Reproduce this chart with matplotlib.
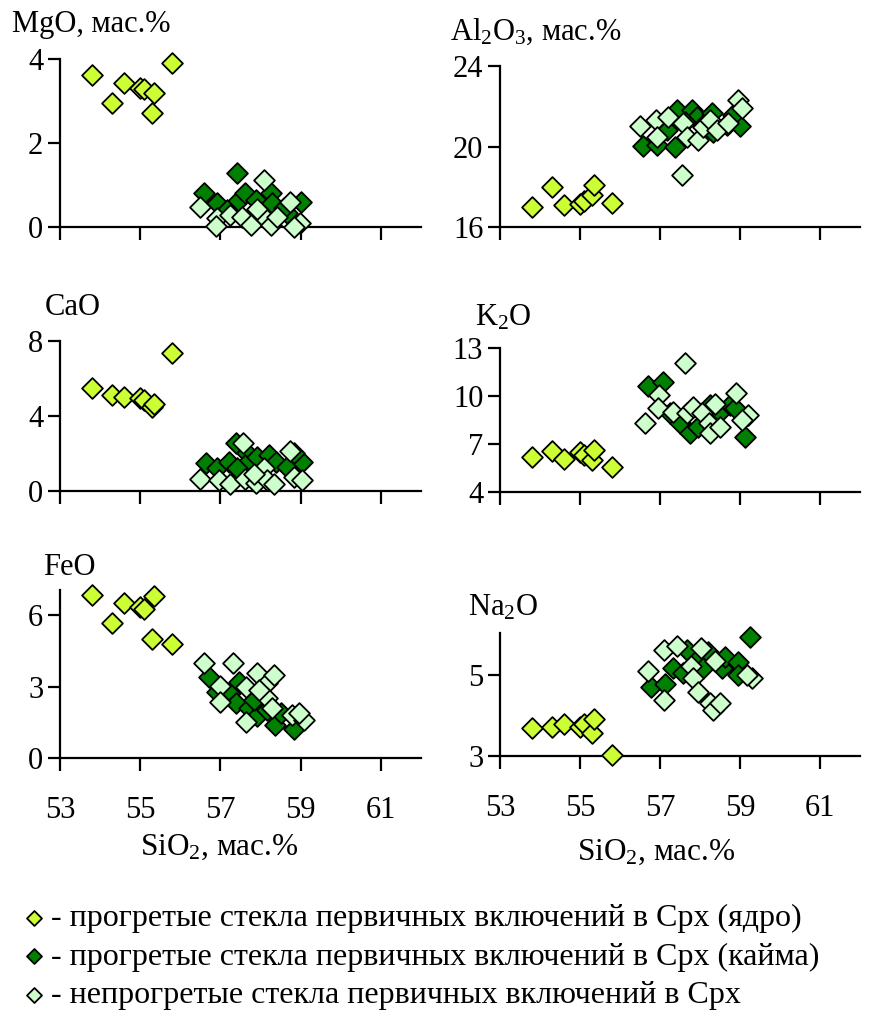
import matplotlib.pyplot as plt

plt.rcParams['font.family'] = ['Liberation Serif', 'DejaVu Serif']
plt.rcParams['mathtext.fontset'] = 'custom'
plt.rcParams['mathtext.rm'] = 'Liberation Serif'
plt.rcParams['mathtext.it'] = 'Liberation Serif:italic'

# heated glass, Cpx core (same analyses in every panel)
core_si = [53.8, 54.3, 54.6, 55.0, 55.1, 55.3, 55.35, 55.8]
core_mgo = [3.62, 2.95, 3.43, 3.30, 3.28, 2.71, 3.20, 3.90]
core_al = [17.0, 18.0, 17.1, 17.15, 17.3, 17.6, 18.1, 17.2]
core_cao = [5.5, 5.1, 5.0, 4.95, 4.85, 4.5, 4.65, 7.35]
core_k = [6.2, 6.55, 6.05, 6.5, 6.3, 6.0, 6.6, 5.55]
core_feo = [6.85, 5.67, 6.5, 6.35, 6.25, 5.0, 6.8, 4.78]
core_na = [3.7, 3.72, 3.8, 3.72, 3.8, 3.57, 3.92, 3.03]

# heated glass, Cpx rim
mgo_rim_si = [56.6, 56.92, 57.42, 57.38, 57.62, 57.88, 58.25, 58.29, 58.67, 59.0, 57.17, 57.83, 58.58]
mgo_rim = [0.80, 0.56, 1.28, 0.56, 0.80, 0.64, 0.80, 0.56, 0.33, 0.60, 0.40, 0.33, 0.45]
al_rim_si = [56.58, 56.92, 57.17, 57.42, 57.38, 57.79, 57.92, 58.29, 58.33, 58.67, 59.0, 58.83, 57.62, 58.08]
al_rim = [20.03, 20.08, 20.82, 21.82, 19.99, 21.82, 21.48, 21.65, 20.74, 21.07, 21.02, 21.57, 21.23, 21.07]
cao_rim_si = [56.63, 56.92, 57.21, 57.38, 57.67, 57.62, 57.92, 58.21, 58.38, 58.67, 59.04, 58.83, 57.42]
cao_rim = [1.51, 1.21, 1.56, 2.54, 2.01, 1.39, 1.83, 1.92, 1.56, 1.30, 1.56, 2.01, 1.21]
k_rim_si = [56.71, 57.07, 57.25, 57.5, 57.75, 57.96, 58.5, 58.75, 58.88, 59.13, 58.25]
k_rim = [10.63, 10.9, 8.92, 8.29, 7.71, 8.08, 9.02, 9.44, 9.23, 7.46, 9.44]
feo_rim_si = [56.71, 56.92, 57.27, 57.46, 57.38, 57.71, 57.92, 58.17, 58.35, 58.5, 58.83, 57.83]
feo_rim = [3.42, 2.79, 2.75, 3.2, 2.30, 2.09, 1.76, 2.02, 1.39, 1.88, 1.21, 2.44]
na_rim_si = [56.77, 57.13, 57.33, 57.67, 57.58, 57.92, 58.08, 58.21, 58.54, 58.63, 58.96, 58.96, 59.25]
na_rim = [4.71, 4.78, 5.17, 5.62, 5.04, 5.37, 5.17, 5.58, 5.17, 5.45, 5.33, 5.0, 5.93]

# unheated glass
mgo_unh_si = [56.48, 56.92, 56.9, 57.25, 57.54, 57.75, 58.08, 58.08, 58.25, 58.73, 58.98, 58.83, 57.92, 58.42]
mgo_unh = [0.47, 0.21, 0.02, 0.29, 0.25, 0.05, 1.13, 0.25, 0.05, 0.60, 0.10, 0.0, 0.42, 0.25]
al_unh_si = [56.5, 56.9, 56.92, 57.21, 57.57, 57.54, 57.67, 57.96, 58.07, 58.25, 58.42, 58.71, 58.96, 59.04]
al_unh = [21.02, 21.32, 20.49, 21.48, 21.15, 18.58, 20.49, 20.32, 20.98, 21.32, 20.82, 21.19, 22.31, 21.9]
cao_unh_si = [56.5, 56.96, 57.25, 57.57, 57.62, 57.88, 58.08, 58.17, 58.33, 58.73, 58.83, 59.04, 57.83]
cao_unh = [0.62, 0.59, 0.37, 2.58, 0.62, 0.41, 1.21, 0.59, 0.37, 2.15, 0.75, 0.59, 0.9]
k_unh_si = [56.63, 56.98, 56.96, 57.33, 57.63, 57.67, 57.83, 58.04, 58.23, 58.25, 58.38, 58.5, 58.9, 59.21, 59.04]
k_unh = [8.29, 10.06, 9.23, 9.02, 12.04, 8.96, 9.33, 8.92, 8.29, 7.67, 9.5, 8.08, 10.2, 8.81, 8.5]
feo_unh_si = [56.6, 57.0, 56.99, 57.32, 57.63, 57.63, 57.92, 58.17, 58.33, 58.17, 58.29, 58.79, 59.08, 58.96, 57.96]
feo_unh = [3.98, 3.04, 2.37, 3.98, 3.0, 1.53, 3.56, 3.14, 3.49, 2.51, 2.09, 1.81, 1.6, 1.88, 2.86]
na_unh_si = [56.71, 57.11, 57.11, 57.43, 57.78, 57.83, 57.96, 58.02, 58.25, 58.32, 58.38, 58.5, 59.29, 59.17]
na_unh = [5.11, 5.63, 4.38, 5.72, 5.22, 4.93, 4.59, 5.67, 4.31, 4.14, 5.35, 4.32, 4.92, 5.0]

x_ticks = [53, 55, 57, 59, 61]
labels = [
    '- прогретые стекла первичных включений в Срх (ядро)',
    '- прогретые стекла первичных включений в Срх (кайма)',
    '- непрогретые стекла первичных включений в Срх',
]
c_core, c_rim, c_unh = '#CCFF33', '#008000', '#CCFFCC'

W, H = 871, 1010
fig = plt.figure(figsize=(W / 100, H / 100), dpi=100)


def box(x0, y0, x1, y1):
    return [x0 / W, 1 - y1 / H, (x1 - x0) / W, (y1 - y0) / H]


def ftext(x, y, s, **kw):
    fig.text(x / W, 1 - y / H, s, **kw)


# (box, ylim, yticks, core, rim x/y, unheated x/y, bottom row?)
panels = [
    (box(60, 59, 421, 227), (0, 4), [0, 2, 4], core_mgo, mgo_rim_si, mgo_rim, mgo_unh_si, mgo_unh, False),
    (box(500, 66, 860, 227), (16, 24), [16, 20, 24], core_al, al_rim_si, al_rim, al_unh_si, al_unh, False),
    (box(60, 341, 421, 491), (0, 8), [0, 4, 8], core_cao, cao_rim_si, cao_rim, cao_unh_si, cao_unh, False),
    (box(500, 348, 860, 492), (4, 13), [4, 7, 10, 13], core_k, k_rim_si, k_rim, k_unh_si, k_unh, False),
    (box(60, 590, 421, 758), (0, 7.05), [0, 3, 6], core_feo, feo_rim_si, feo_rim, feo_unh_si, feo_unh, True),
    (box(500, 633, 860, 756), (3, 6.04), [3, 5], core_na, na_rim_si, na_rim, na_unh_si, na_unh, True),
]

handles = []
for rect, ylim, yticks, core_y, rx, ry, ux, uy, bottom in panels:
    ax = fig.add_axes(rect)
    kw = dict(marker='D', s=112, edgecolors='black', linewidths=1.3, clip_on=False)
    h1 = ax.scatter(core_si, core_y, c=c_core, zorder=3, **kw)
    h2 = ax.scatter(rx, ry, c=c_rim, zorder=4, **kw)
    h3 = ax.scatter(ux, uy, c=c_unh, zorder=5, **kw)
    handles = [h1, h2, h3]
    ax.set_xlim(53, 62)
    ax.set_ylim(*ylim)
    ax.set_xticks(x_ticks)
    ax.set_yticks(yticks)
    for side in ('top', 'right'):
        ax.spines[side].set_visible(False)
    for side in ('left', 'bottom'):
        ax.spines[side].set_linewidth(1.6)
    ax.tick_params(axis='both', direction='out', length=9, width=1.6, labelsize=22)
    ax.tick_params(axis='y', pad=3)
    ax.tick_params(axis='x', pad=18, labelbottom=bottom)
    ax.set_facecolor('none')

# oxide captions above each panel
ftext(12, 32, 'MgO, мас.%', fontsize=22)
ftext(450, 40, r'Al$_\mathrm{2}$O$_\mathrm{3}$, мас.%', fontsize=22)
ftext(45, 315, 'CaO', fontsize=22)
ftext(475, 325, r'K$_\mathrm{2}$O', fontsize=22)
ftext(43, 575, 'FeO', fontsize=22)
ftext(468, 615, r'Na$_\mathrm{2}$O', fontsize=22)
ftext(219, 855, r'SiO$_\mathrm{2}$, мас.%', fontsize=22.5, ha='center')
ftext(656, 860, r'SiO$_\mathrm{2}$, мас.%', fontsize=22.5, ha='center')

fig.legend(handles, labels, loc='upper left', bbox_to_anchor=(24 / W, 1 - 904 / H),
           frameon=False, fontsize=23, markerscale=0.72, handlelength=0.6,
           handletextpad=0.25, labelspacing=0.28, borderpad=0, borderaxespad=0)

fig.savefig('out.png', dpi=100)
